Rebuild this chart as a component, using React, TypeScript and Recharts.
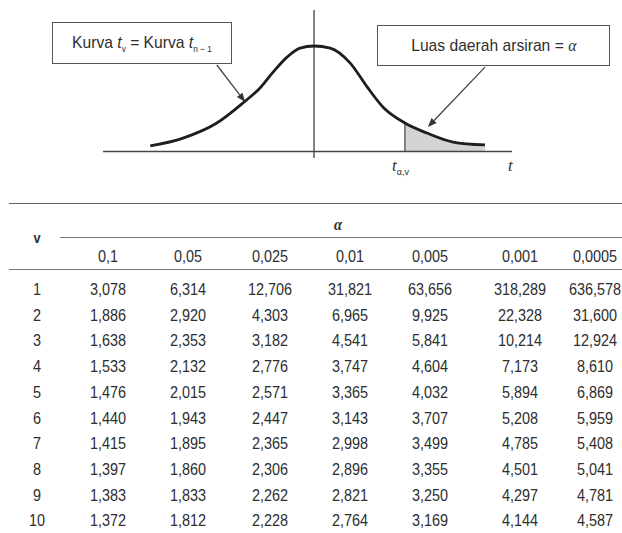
import React from "react";
import {
  ComposedChart,
  Line,
  Area,
  XAxis,
  YAxis,
  ReferenceLine,
} from "recharts";

// curve (t, density)
const T_VALUES = [-3.64, -2.91, -2.16, -1.58, -1.2, -0.91, -0.6, -0.31, 0, 0.36, 0.8, 1.18, 1.53, 2.02, 2.51, 3.09, 3.8];
const DENSITY = [0.021, 0.051, 0.108, 0.184, 0.241, 0.301, 0.358, 0.392, 0.4, 0.392, 0.336, 0.245, 0.169, 0.108, 0.07, 0.036, 0.025];
const TAIL_START = 2.02;

// table values
const ALPHA_LEVELS = ["0,1", "0,05", "0,025", "0,01", "0,005", "0,001", "0,0005"];
const DF = ["1", "2", "3", "4", "5", "6", "7", "8", "9", "10"];
const T_01 = ["3,078", "1,886", "1,638", "1,533", "1,476", "1,440", "1,415", "1,397", "1,383", "1,372"];
const T_005 = ["6,314", "2,920", "2,353", "2,132", "2,015", "1,943", "1,895", "1,860", "1,833", "1,812"];
const T_0025 = ["12,706", "4,303", "3,182", "2,776", "2,571", "2,447", "2,365", "2,306", "2,262", "2,228"];
const T_001 = ["31,821", "6,965", "4,541", "3,747", "3,365", "3,143", "2,998", "2,896", "2,821", "2,764"];
const T_0005 = ["63,656", "9,925", "5,841", "4,604", "4,032", "3,707", "3,499", "3,355", "3,250", "3,169"];
const T_0001 = ["318,289", "22,328", "10,214", "7,173", "5,894", "5,208", "4,785", "4,501", "4,297", "4,144"];
const T_00005 = ["636,578", "31,600", "12,924", "8,610", "6,869", "5,959", "5,408", "5,041", "4,781", "4,587"];
const COLUMNS = [T_01, T_005, T_0025, T_001, T_0005, T_0001, T_00005];

const data = T_VALUES.map((t, i) => ({
  t,
  y: DENSITY[i],
  tail: t >= TAIL_START ? DENSITY[i] : null,
}));
const tailTop = DENSITY[T_VALUES.indexOf(TAIL_START)];

// annotation arrows, in data units
const ARROWS = [
  [{ x: -2.16, y: 0.328 }, { x: -1.53, y: 0.188 }],
  [{ x: 3.8, y: 0.32 }, { x: 2.53, y: 0.093 }],
];

const INK = "#2e2e2e";
const FONT = "'Liberation Sans', Arial, sans-serif";
const SERIF = "'Liberation Serif', serif";

const Arrow = (p: any) => {
  const { x1, y1, x2, y2 } = p;
  const a = Math.atan2(y2 - y1, x2 - x1);
  const L = 9;
  const W = 3.5;
  const bx = x2 - L * Math.cos(a);
  const by = y2 - L * Math.sin(a);
  const pts = [
    `${x2},${y2}`,
    `${bx + W * Math.sin(a)},${by - W * Math.cos(a)}`,
    `${bx - W * Math.sin(a)},${by + W * Math.cos(a)}`,
  ].join(" ");
  return (
    <g>
      <line x1={x1} y1={y1} x2={bx} y2={by} stroke="#444" strokeWidth={1.3} />
      <polygon points={pts} fill="#333" />
    </g>
  );
};

const COL_X = [108, 188, 270, 350, 430, 520, 595];
const V_X = 37;
const ROW_Y0 = 290;
const ROW_STEP = 25.7;

// narrow look: regular sans squeezed horizontally
const cell = (x: number, y: number, text: string, key: string, extra: React.CSSProperties = {}) => (
  <div
    key={key}
    style={{
      position: "absolute",
      left: x - 45,
      top: y - 11,
      width: 90,
      height: 22,
      lineHeight: "22px",
      textAlign: "center",
      transform: "scaleX(0.85)",
      ...extra,
    }}
  >
    {text}
  </div>
);

const App = () => {
  return (
    <div
      style={{
        position: "absolute",
        left: 0,
        top: 0,
        width: 622,
        height: 533,
        overflow: "hidden",
        background: "#fff",
        fontFamily: FONT,
        color: INK,
      }}
    >
      <div style={{ position: "absolute", left: 0, top: 0 }}>
        <ComposedChart
          width={622}
          height={170}
          data={data}
          margin={{ top: 10, right: 110, bottom: 12, left: 103 }}
        >
          <XAxis dataKey="t" type="number" domain={[-4.69, 4.4]} hide allowDataOverflow />
          <YAxis type="number" domain={[-0.0246, 0.5365]} hide width={0} allowDataOverflow />
          <Area
            dataKey="tail"
            type="monotone"
            stroke="none"
            fill="#d4d4d4"
            fillOpacity={1}
            baseValue={0}
            isAnimationActive={false}
          />
          <ReferenceLine y={0} stroke="#444" strokeWidth={1.5} />
          <ReferenceLine x={0} stroke="#444" strokeWidth={1.3} />
          <ReferenceLine
            segment={[{ x: TAIL_START, y: 0 }, { x: TAIL_START, y: tailTop }]}
            stroke="#444"
            strokeWidth={1.2}
          />
          <Line
            dataKey="y"
            type="monotone"
            stroke="#1e1e1e"
            strokeWidth={2.8}
            dot={false}
            isAnimationActive={false}
          />
          {ARROWS.map((seg, i) => (
            <ReferenceLine key={i} segment={seg} shape={Arrow} />
          ))}
        </ComposedChart>
      </div>

      {/* callout boxes */}
      <div
        style={{
          position: "absolute",
          left: 52,
          top: 22,
          width: 178,
          height: 40,
          border: "1.6px solid #555",
          fontSize: 17,
          lineHeight: "40px",
          textAlign: "center",
        }}
      >
        <span style={{ display: "inline-block", transform: "scaleX(0.92)", whiteSpace: "nowrap" }}>
          Kurva <i>t</i>
          <sub style={{ fontSize: 9 }}>v</sub> = Kurva <i>t</i>
          <sub style={{ fontSize: 9 }}>n − 1</sub>
        </span>
      </div>
      <div
        style={{
          position: "absolute",
          left: 377,
          top: 25,
          width: 231,
          height: 39,
          border: "1.6px solid #555",
          fontSize: 17,
          lineHeight: "39px",
          textAlign: "center",
        }}
      >
        <span style={{ display: "inline-block", transform: "scaleX(0.92)", whiteSpace: "nowrap" }}>
          Luas daerah arsiran = <i style={{ fontFamily: SERIF }}>α</i>
        </span>
      </div>

      {/* axis labels */}
      <div style={{ position: "absolute", left: 392, top: 156, fontSize: 17, fontStyle: "italic", fontFamily: SERIF }}>
        t<sub style={{ fontSize: 9, fontStyle: "normal", fontFamily: FONT }}>α,v</sub>
      </div>
      <div style={{ position: "absolute", left: 508, top: 156, fontSize: 17, fontStyle: "italic", fontFamily: SERIF }}>
        t
      </div>

      {/* table rules */}
      <div style={{ position: "absolute", left: 9, top: 203, width: 613, height: 0, borderTop: "1.6px solid #666" }} />
      <div style={{ position: "absolute", left: 60, top: 237, width: 562, height: 0, borderTop: "1.4px solid #777" }} />
      <div style={{ position: "absolute", left: 9, top: 269, width: 613, height: 0, borderTop: "1.6px solid #777" }} />

      <div style={{ fontSize: 17 }}>
        {cell(V_X, 238, "v", "vh", { fontWeight: "bold", fontSize: 15 })}
        {cell(338, 225, "α", "ah", { fontStyle: "italic", fontFamily: SERIF, fontWeight: "bold" })}
        {ALPHA_LEVELS.map((a, j) => cell(COL_X[j], 257, a, `h${j}`))}
        {DF.map((v, i) => (
          <React.Fragment key={v}>
            {cell(V_X, ROW_Y0 + i * ROW_STEP, v, `v${i}`)}
            {COLUMNS.map((col, j) => cell(COL_X[j], ROW_Y0 + i * ROW_STEP, col[i], `c${i}-${j}`))}
          </React.Fragment>
        ))}
      </div>
    </div>
  );
};

export default App;
